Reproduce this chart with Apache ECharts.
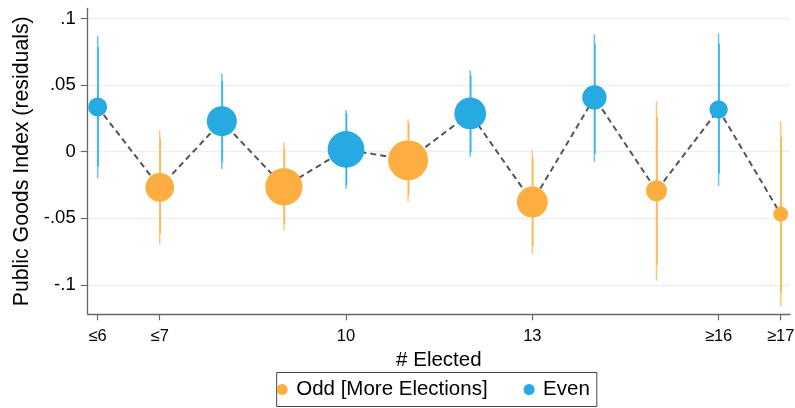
<!DOCTYPE html>
<html>
<head>
<meta charset="utf-8">
<script src="https://cdn.jsdelivr.net/npm/echarts@6/dist/echarts.min.js"></script>
<style>
  html, body { margin: 0; padding: 0; background: #fff; }
  #chart { width: 795px; height: 408px; }
</style>
</head>
<body>
<div id="chart"></div>
<script>
// Number of council members elected, and the residualised public goods index
const electedCount = [6, 7, 8, 9, 10, 11, 12, 13, 14, 15, 16, 17];
const residual = [0.0336, -0.0269, 0.0229, -0.0264, 0.0017, -0.0064, 0.0287, -0.0379, 0.0407, -0.0294, 0.0317, -0.0469];

// 95% confidence bounds
const ci95Low  = [-0.0201, -0.0697, -0.0131, -0.0595, -0.0279, -0.0377, -0.0039, -0.0770, -0.0077, -0.0970, -0.0257, -0.1165];
const ci95High = [0.0869, 0.0161, 0.0587, 0.0071, 0.0312, 0.0244, 0.0612, 0.0011, 0.0882, 0.0381, 0.0887, 0.0229];

// 90% confidence bounds
const ci90Low  = [-0.0114, -0.0614, -0.0077, -0.0544, -0.0251, -0.0327, -0.0004, -0.0709, -0.0014, -0.0852, -0.0164, -0.1065];
const ci90High = [0.0787, 0.0094, 0.0529, 0.0024, 0.0287, 0.0212, 0.0574, -0.0049, 0.0812, 0.0261, 0.0812, 0.0111];

// Marker diameter reflects the number of observations in each bin
const binWeight = [19, 28.7, 30, 37.3, 36.7, 40, 31.7, 31, 24.3, 21, 18.3, 15];

// Axis ticks
const xTickValues = [6, 7, 10, 13, 16, 17];
const xTickLabels = ['≤6', '≤7', '10', '13', '≥16', '≥17'];
const yTickValues = [-0.1, -0.05, 0, 0.05, 0.1];
const yTickLabels = ['-.1', '-.05', '0', '.05', '.1'];

const seriesNames = ['Odd [More Elections]', 'Even'];
const ORANGE = '#fcae40';
const BLUE = '#26aae1';

function isOdd(n) { return n % 2 === 1; }
function lookup(values, labels, v) {
  for (let i = 0; i < values.length; i++) {
    if (Math.abs(values[i] - v) < 1e-6) return labels[i];
  }
  return '';
}

const barData = electedCount.map((x, i) => [x, ci95Low[i], ci95High[i], ci90Low[i], ci90High[i], isOdd(x) ? 1 : 0]);
const oddPoints = [], evenPoints = [];
electedCount.forEach((x, i) => {
  (isOdd(x) ? oddPoints : evenPoints).push([x, residual[i], binWeight[i]]);
});

const chart = echarts.init(document.getElementById('chart'), null, { renderer: 'canvas' });

chart.setOption({
  animation: false,
  backgroundColor: '#ffffff',
  textStyle: { fontFamily: '"Liberation Sans", Arial, sans-serif' },
  grid: { left: 87.7, right: 5, top: 8.3, bottom: 93.7, containLabel: false, outerBoundsMode: 'none' },
  legend: {
    data: seriesNames,
    left: 276.7,
    top: 372.5,
    orient: 'horizontal',
    icon: 'circle',
    itemWidth: 18,
    itemHeight: 11,
    itemGap: 36,
    padding: [6.5, 7, 6.5, 0],
    borderColor: '#444',
    borderWidth: 1,
    borderRadius: 0,
    textStyle: { fontSize: 20.5, color: '#000', fontFamily: '"Liberation Sans", Arial, sans-serif' }
  },
  xAxis: {
    type: 'value',
    min: 5.84,
    max: 17.15,
    name: '# Elected',
    nameLocation: 'middle',
    nameGap: 27,
    nameTextStyle: { fontSize: 20.5, color: '#000', verticalAlign: 'top' },
    axisLine: { show: true, onZero: false, lineStyle: { color: '#666', width: 1.3 } },
    axisTick: { show: true, length: 6, customValues: xTickValues, lineStyle: { color: '#666', width: 1.2 } },
    axisLabel: {
      customValues: xTickValues,
      fontSize: 16.5,
      color: '#000',
      margin: 14,
      formatter: v => lookup(xTickValues, xTickLabels, v)
    },
    splitLine: { show: false }
  },
  yAxis: {
    type: 'value',
    min: -0.1222,
    max: 0.1077,
    name: 'Public Goods Index (residuals)',
    nameLocation: 'middle',
    nameGap: 54,
    nameTextStyle: { fontSize: 21.3, color: '#000' },
    axisLine: { show: true, lineStyle: { color: '#666', width: 1.3 } },
    axisTick: { show: true, length: 7, customValues: yTickValues, lineStyle: { color: '#666', width: 1.2 } },
    axisLabel: {
      customValues: yTickValues,
      fontSize: 18.5,
      color: '#000',
      margin: 12,
      formatter: v => lookup(yTickValues, yTickLabels, v)
    },
    splitLine: { show: true, lineStyle: { color: '#eaf1f3', width: 1.3 } }
  },
  series: [
    {
      // confidence intervals: outer 95%, inner 90%
      type: 'custom',
      silent: true,
      z: 1,
      data: barData,
      encode: { x: 0, y: [1, 2, 3, 4] },
      renderItem: function (params, api) {
        const x = api.value(0);
        const color = api.value(5) === 1 ? ORANGE : BLUE;
        const lo95 = api.coord([x, api.value(1)]);
        const hi95 = api.coord([x, api.value(2)]);
        const lo90 = api.coord([x, api.value(3)]);
        const hi90 = api.coord([x, api.value(4)]);
        return {
          type: 'group',
          children: [
            { type: 'line', shape: { x1: lo95[0], y1: lo95[1], x2: hi95[0], y2: hi95[1] },
              style: { stroke: color, lineWidth: 1.5, opacity: 0.7 } },
            { type: 'line', shape: { x1: lo90[0] + 0.6, y1: lo90[1], x2: hi90[0] + 0.6, y2: hi90[1] },
              style: { stroke: color, lineWidth: 1.5, opacity: 0.8 } }
          ]
        };
      }
    },
    {
      type: 'line',
      silent: true,
      z: 2,
      symbol: 'none',
      data: electedCount.map((x, i) => [x, residual[i]]),
      lineStyle: { color: '#555', width: 2, type: [6, 4] }
    },
    {
      name: seriesNames[0],
      type: 'scatter',
      z: 3,
      data: oddPoints,
      symbolSize: v => v[2],
      itemStyle: { color: ORANGE, opacity: 1 }
    },
    {
      name: seriesNames[1],
      type: 'scatter',
      z: 3,
      data: evenPoints,
      symbolSize: v => v[2],
      itemStyle: { color: BLUE, opacity: 1 }
    }
  ]
});
</script>
</body>
</html>
